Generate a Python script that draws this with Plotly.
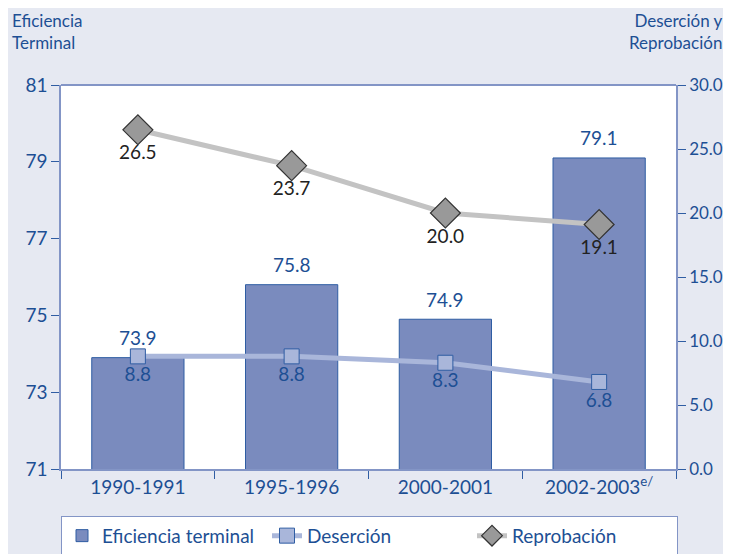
import plotly.graph_objects as go

periodos = ['1990-1991', '1995-1996', '2000-2001', '2002-2003<sup>e/</sup>']
eficiencia = [73.9, 75.8, 74.9, 79.1]
desercion = [8.8, 8.8, 8.3, 6.8]
reprobacion = [26.5, 23.7, 20.0, 19.1]

AZUL = '#1d4f94'
LINEA = '#8395c6'
FONDO = '#e6e9f2'
FUENTE = 'Lato'
TAM = 19


def main():
    fig = go.Figure()

    fig.add_trace(go.Bar(
        x=periodos, y=eficiencia, name='Eficiencia terminal',
        marker=dict(color='#7a8bbe', line=dict(color='#2f5da3', width=1)),
        width=0.6,
    ))
    fig.add_trace(go.Scatter(
        x=periodos, y=desercion, name='Deserción', yaxis='y2',
        mode='lines+markers+text',
        line=dict(color='#a9b6da', width=5),
        marker=dict(symbol='square', size=15, color='#a9b6da',
                    line=dict(color='#2f5da3', width=1)),
        text=[f'{v:.1f}' for v in desercion], textposition='bottom center',
        textfont=dict(color=AZUL, size=TAM),
    ))
    fig.add_trace(go.Scatter(
        x=periodos, y=reprobacion, name='Reprobación', yaxis='y2',
        mode='lines+markers+text',
        line=dict(color='#c3c3c3', width=5),
        marker=dict(symbol='diamond', size=23, color='#999999',
                    line=dict(color='#333333', width=1.2)),
        text=[f'{v:.1f}' for v in reprobacion], textposition='bottom center',
        textfont=dict(color='#222222', size=TAM),
    ))

    # bar value labels sit a little above each bar
    etiquetas = [
        dict(x=p, y=v, xref='x', yref='y', text=f'{v:.1f}', showarrow=False,
             yshift=20, font=dict(size=TAM, color=AZUL))
        for p, v in zip(periodos, eficiencia)
    ]

    # the page body has an 8px margin, so the figure is sized to fit the window
    fig.update_layout(
        width=723, height=546,
        margin=dict(l=53, r=55, t=77, b=85),
        paper_bgcolor=FONDO, plot_bgcolor='white',
        font=dict(family=FUENTE, color=AZUL, size=TAM),
        xaxis=dict(
            automargin=False,
            showline=True, linecolor=LINEA, linewidth=1.5,
            ticks='outside', tickson='boundaries', ticklen=8, tickcolor='#2f5da3',
            tickfont=dict(size=TAM, color=AZUL),
        ),
        yaxis=dict(
            automargin=False,
            range=[71, 81], tickvals=[71, 73, 75, 77, 79, 81],
            showgrid=False, zeroline=False,
            showline=True, linecolor=LINEA, linewidth=1.5,
            ticks='outside', ticklen=8, tickcolor='#2f5da3',
            tickfont=dict(size=TAM, color=AZUL),
        ),
        yaxis2=dict(
            automargin=False,
            range=[0, 30], dtick=5, tickformat='.1f',
            overlaying='y', side='right',
            showgrid=False, zeroline=False,
            showline=True, linecolor=LINEA, linewidth=1.5,
            ticks='outside', ticklen=8, tickcolor='#2f5da3',
            tickfont=dict(size=17, color=AZUL),
        ),
        shapes=[dict(type='line', xref='paper', yref='paper', x0=0, x1=1, y0=1, y1=1,
                     line=dict(color=LINEA, width=2))],
        legend=dict(
            orientation='h', xref='paper', x=0.0, xanchor='left',
            yref='container', y=0.07, yanchor='top',
            bgcolor='white', bordercolor=LINEA, borderwidth=1,
            font=dict(size=TAM, color=AZUL), entrywidth=160,
        ),
        annotations=etiquetas + [
            dict(text='Eficiencia<br>Terminal', xref='paper', yref='paper',
                 x=-0.083, y=1.2, xanchor='left', yanchor='top', showarrow=False,
                 align='left', font=dict(size=17, color=AZUL)),
            dict(text='Deserción y<br>Reprobación', xref='paper', yref='paper',
                 x=1.079, y=1.2, xanchor='right', yanchor='top', showarrow=False,
                 align='right', font=dict(size=17, color=AZUL)),
        ],
    )

    fig.write_html('out.html')


if __name__ == '__main__':
    main()
